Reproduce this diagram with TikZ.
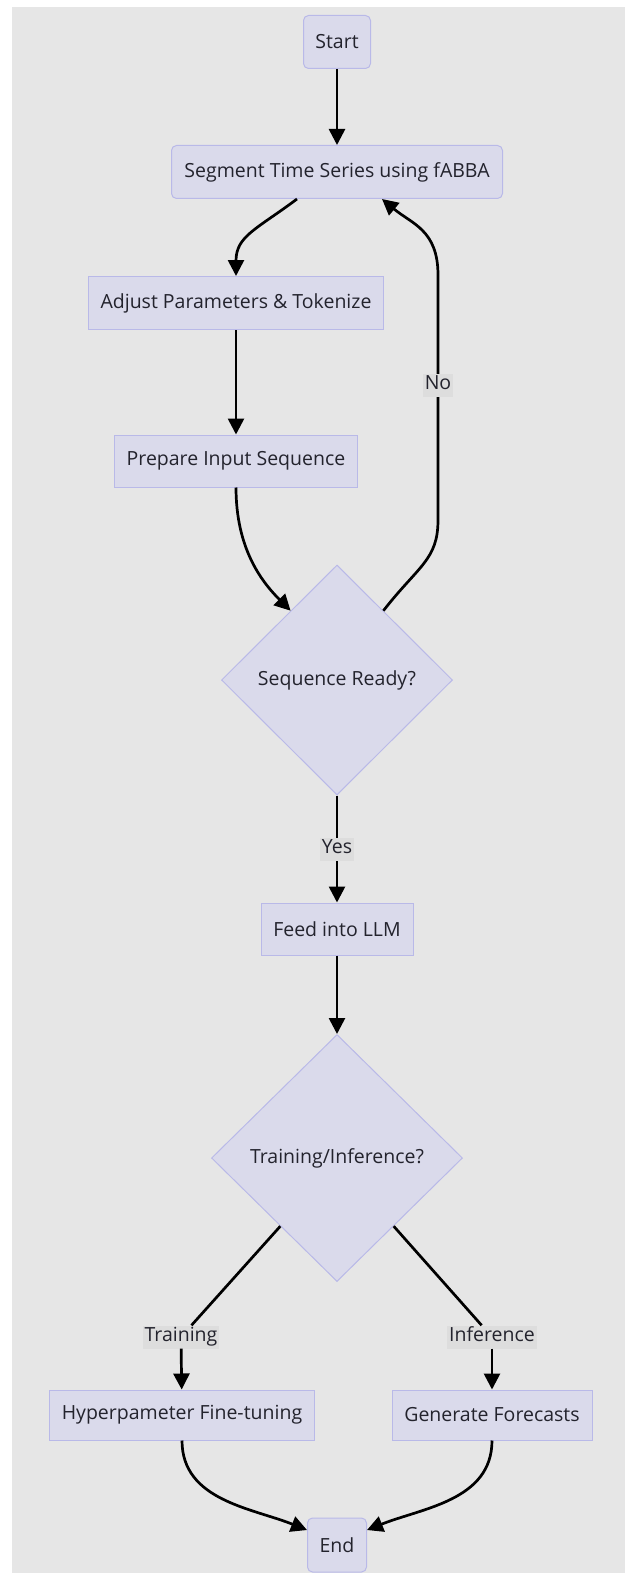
\documentclass[tikz,border=0pt]{standalone}
\usepackage{fontspec}
\setmainfont{Open Sans}
\usetikzlibrary{shapes.geometric,arrows.meta,calc}
\definecolor{bggray}{RGB}{230,230,230}
\definecolor{nodefill}{RGB}{218,218,235}
\definecolor{nodeline}{RGB}{185,185,232}
\definecolor{lblfill}{RGB}{221,221,221}
\definecolor{txtgray}{RGB}{35,35,45}
\begin{document}
\begin{tikzpicture}[x=1pt, y=-1pt, font=\fontsize{19.5}{23}\selectfont, text=txtgray,
  box/.style={draw=nodeline, fill=nodefill, line width=1pt, inner sep=0pt},
  rbox/.style={box, rounded corners=5pt},
  dia/.style={box, diamond, aspect=1},
  lbl/.style={fill=lblfill, inner sep=2pt, text height=14pt, text depth=5pt},
  arr/.style={line width=2.7pt, -{Triangle[length=16pt, width=16pt]}},
  seg/.style={line width=2.7pt}]
  \useasboundingbox (0,0) rectangle (625,1573);
  \fill[bggray] (12,7) rectangle (625,1573);
  \node[rbox, minimum width=67pt, minimum height=53pt] (start) at (337,42) {Start};
  \node[rbox, minimum width=331pt, minimum height=53pt] (segm) at (337,172) {Segment Time Series using fABBA};
  \node[box, minimum width=295pt, minimum height=53pt] (adj) at (236,303) {Adjust Parameters \& Tokenize};
  \node[box, minimum width=243pt, minimum height=52pt] (prep) at (236,461) {Prepare Input Sequence};
  \node[dia, minimum width=231pt, minimum height=230pt] (ready) at (337,680) {Sequence Ready?};
  \node[box, minimum width=152pt, minimum height=52pt] (feed) at (337,929) {Feed into LLM};
  \node[dia, minimum width=251pt, minimum height=247pt] (mode) at (337,1158) {Training/Inference?};
  \node[box, minimum width=265pt, minimum height=50pt] (hyp) at (182,1415) {Hyperpameter Fine-tuning};
  \node[box, minimum width=200pt, minimum height=50pt] (fore) at (492,1415) {Generate Forecasts};
  \node[rbox, minimum width=59pt, minimum height=54pt] (fin) at (337,1545) {End};
  \node[lbl] (trn) at (181,1337) {Training};
  \node[lbl] (inf) at (492,1337) {Inference};

  \draw[arr] (start) -- (segm);
  \draw[arr] ([xshift=-40pt]segm.south) .. controls +(-40,30) and +(0,-40) .. (adj.north);
  \draw[arr] (adj) -- (prep);
  \draw[arr] (prep.south) .. controls +(0,60) and +(-30,-30) .. ($(ready.north)!0.4!(ready.west)$);
  \draw[arr] ($(ready.north)!0.4!(ready.east)$) .. controls +(35,-45) and +(0,40) .. (438,520)
    -- node[lbl, pos=0.55] {No} (438,275) .. controls +(0,-45) and +(30,25) .. ([xshift=45pt]segm.south);
  \draw[arr] (ready) -- node[lbl] {Yes} (feed);
  \draw[arr] (feed) -- (mode);
  \draw[seg] ($(mode.south)!0.45!(mode.west)$) -- (trn);
  \draw[arr] (trn) -- (hyp);
  \draw[seg] ($(mode.south)!0.45!(mode.east)$) -- (inf);
  \draw[arr] (inf) -- (fore);
  \draw[arr] (hyp.south) .. controls +(0,60) and +(-55,-22) .. ([yshift=15pt]fin.west);
  \draw[arr] (fore.south) .. controls +(0,60) and +(55,-22) .. ([yshift=15pt]fin.east);
\end{tikzpicture}
\end{document}
